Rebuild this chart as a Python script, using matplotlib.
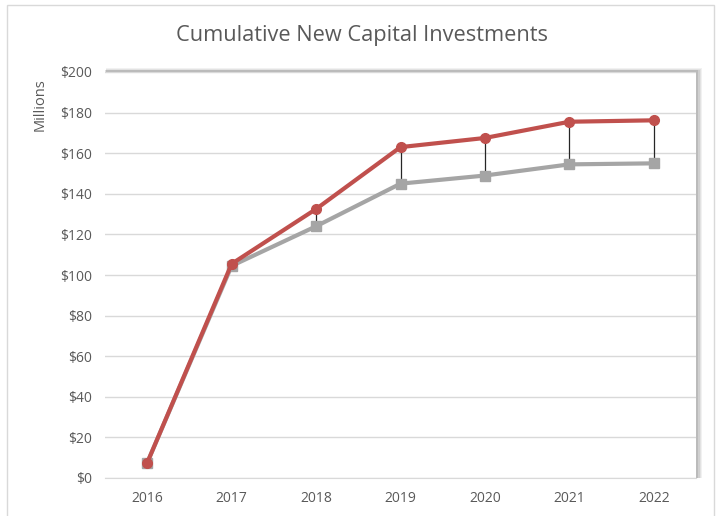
import matplotlib.pyplot as plt
from matplotlib.patches import Rectangle
import numpy as np

plt.rcParams['font.family'] = ['Open Sans', 'DejaVu Sans']

years = ["2016", "2017", "2018", "2019", "2020", "2021", "2022"]
upper = [7.5, 105.5, 132.5, 163, 167.5, 175.5, 176.2]
lower = [7.5, 104.5, 124, 145, 149, 154.5, 155]

red = "#C0504D"
gray = "#A5A5A5"
txt = "#595959"

fig = plt.figure(figsize=(7.16, 5.16), dpi=100)

# outer chart border
fig.patches.append(Rectangle((7 / 716, -0.01), 707 / 716, 1.0 - 5 / 516 + 0.01,
                             transform=fig.transFigure, fill=False,
                             edgecolor="#D9D9D9", lw=1))

ax = fig.add_axes([105 / 716, 1 - 478 / 516, 591 / 716, 406 / 516])

# soft shadow behind plot area (top and right)
for i, a in enumerate([0.10, 0.13, 0.18, 0.25]):
    off = (5 - i)
    fig.patches.append(Rectangle(((105 + off * 0.2) / 716, (1 - 478 / 516)),
                                 (591 + off) / 716, (406 + off * 0.8) / 516,
                                 transform=fig.transFigure, facecolor="#7F7F7F",
                                 edgecolor="none", alpha=a, zorder=0))

ax.set_facecolor("white")
ax.set_zorder(1)

x = np.arange(len(years))
ax.vlines(x[1:], lower[1:], upper[1:], color="#262626", lw=0.9, zorder=3)
ax.plot(x, lower, color=gray, lw=3, marker="s", ms=7, zorder=4)
ax.plot(x, upper, color=red, lw=3, marker="o", ms=7, zorder=5)

ax.set_xlim(-0.5, len(years) - 0.5)
ax.set_ylim(0, 200)
ax.set_yticks(np.arange(0, 201, 20))
ax.set_yticklabels([f"${v}" for v in range(0, 201, 20)])
ax.set_xticks(x)
ax.set_xticklabels(years)
ax.grid(axis="y", color="#D9D9D9", lw=1)
ax.set_axisbelow(True)
for s in ["top", "right", "left"]:
    ax.spines[s].set_visible(False)
ax.spines["bottom"].set_color("#D9D9D9")
ax.tick_params(axis="both", length=0, colors=txt, labelsize=10)
ax.tick_params(axis="x", pad=9)
ax.tick_params(axis="y", pad=9.5)
ax.set_ylabel("Millions", color=txt, fontsize=10.5)
ax.yaxis.set_label_coords(-0.097, 0.919)

fig.text(362 / 716, 1 - 36 / 516, "Cumulative New Capital Investments",
         ha="center", va="center", fontsize=15.7, color=txt)

fig.savefig("out.png", dpi=100)
